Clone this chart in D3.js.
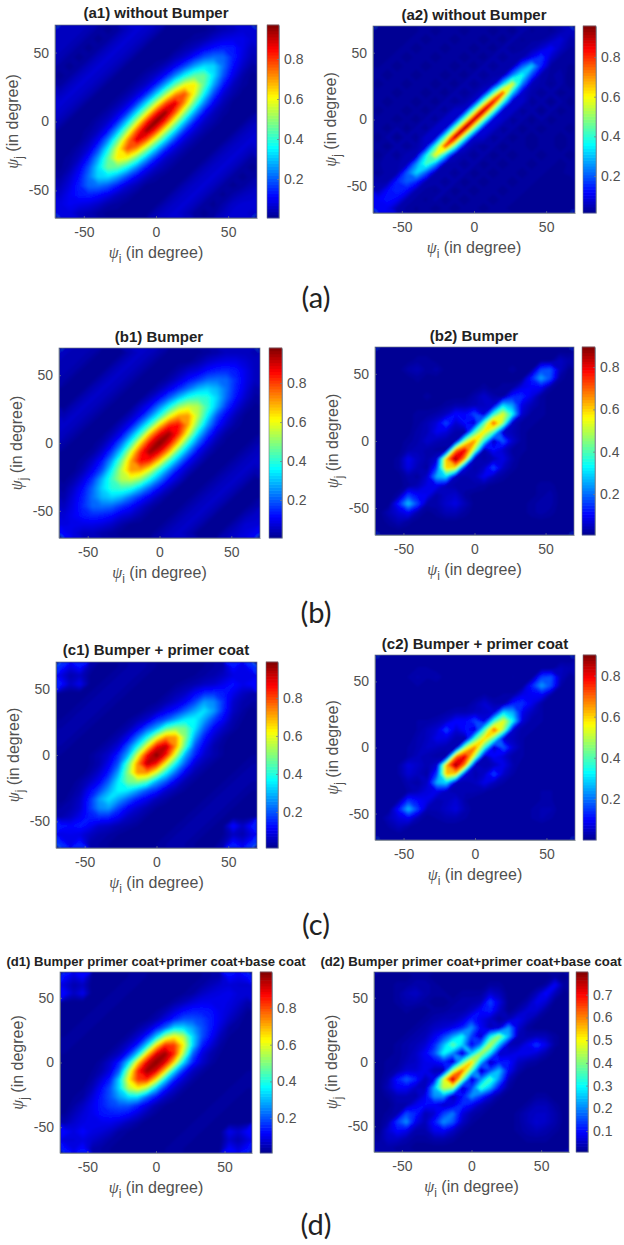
<!DOCTYPE html>
<html>
<head>
<meta charset='UTF-8'>
<title>Beam pattern correlation</title>
<script src='https://d3js.org/d3.v7.min.js'></script>
<style>
    body { margin: 0; background: #fff; }
    text { font-family: 'Liberation Sans', Arial, sans-serif; }
    .tickLabels text { font-size: 14px; fill: #505050; }
    .tickLabels path, .tickLabels line { stroke: #6f7a88; stroke-width: 0.7; }
    .label { font-size: 16px; fill: #505050; }
    .psi { font-family: 'Liberation Serif', serif; font-style: italic; }
    .title { font-weight: bold; fill: #222; text-anchor: middle; }
    .sub { font-family: 'Lato', sans-serif; font-size: 29px; fill: #222; text-anchor: middle; }
</style>
</head>
<body>
<svg id='fig' width='624' height='1245'></svg>
<script type='text/javascript'>

// values are percent, rows run from psi_j = +66.7 down to -66.7, columns psi_i = -66.7 to +66.7
var a1Values = [
[5,5,5,4,2,1,2,5,7,6,4,1,1,1,1,1,2,4,5,7,7],
[5,5,4,2,1,2,5,7,6,4,1,1,1,1,2,3,6,8,9,9,7],
[5,4,2,1,2,5,7,6,4,1,1,1,1,3,5,9,12,14,13,9,5],
[4,2,1,2,5,7,6,4,1,1,1,1,4,7,13,19,22,21,14,8,4],
[2,1,2,5,7,6,4,1,1,1,2,5,10,18,27,33,32,22,12,6,2],
[1,2,5,7,6,4,1,1,1,3,6,12,24,36,45,46,33,19,9,3,1],
[2,5,7,6,4,1,1,1,3,6,14,28,45,59,62,45,27,13,5,2,1],
[5,7,6,4,1,1,1,3,7,15,31,51,70,77,59,36,18,7,3,1,1],
[7,6,4,1,1,1,3,7,16,33,55,77,88,70,45,24,10,4,1,1,1],
[6,4,1,1,1,3,7,15,33,56,81,95,77,51,28,12,5,2,1,1,1],
[4,1,1,1,3,6,14,31,55,81,97,81,55,31,14,6,3,1,1,1,4],
[1,1,1,2,5,12,28,51,77,95,81,56,33,15,7,3,1,1,1,4,6],
[1,1,1,4,10,24,45,70,88,77,55,33,16,7,3,1,1,1,4,6,7],
[1,1,3,7,18,36,59,77,70,51,31,15,7,3,1,1,1,4,6,7,5],
[1,2,5,13,27,45,62,59,45,28,14,6,3,1,1,1,4,6,7,5,2],
[1,3,9,19,33,46,45,36,24,12,6,3,1,1,1,4,6,7,5,2,1],
[2,6,12,22,32,33,27,18,10,5,2,1,1,1,4,6,7,5,2,1,2],
[4,8,14,21,22,19,13,7,4,1,1,1,1,4,6,7,5,2,1,2,4],
[6,10,13,14,12,9,5,3,1,1,1,1,4,6,7,5,2,1,3,5,6],
[8,10,9,8,6,3,2,1,1,1,1,4,6,7,5,2,1,3,6,7,7],
[8,8,5,4,2,1,1,1,1,1,4,6,7,5,2,1,2,5,7,7,6]
];
var a2Values = [
[2,2,2,1,2,3,1,3,3,1,3,3,1,3,1,4,2,3,2,4,6],
[2,2,1,2,3,1,3,3,1,3,3,1,3,1,4,2,3,3,5,8,4],
[2,1,2,3,1,3,3,1,3,3,1,3,1,4,2,3,4,7,11,6,3],
[1,2,3,1,3,3,1,3,3,1,3,1,4,2,4,4,10,17,7,3,3],
[2,3,1,3,3,1,3,3,1,3,1,4,2,4,4,20,31,14,3,3,2],
[3,1,3,3,1,3,3,1,3,1,4,2,4,4,24,38,18,4,3,4,1],
[1,3,3,1,3,3,1,3,1,4,2,4,5,32,58,24,5,4,2,4,1],
[3,3,1,3,3,1,3,1,4,2,4,7,42,78,32,7,4,2,4,1,3],
[3,1,3,3,1,3,1,4,2,4,7,47,88,42,6,7,2,4,1,4,1],
[1,3,3,1,3,1,4,2,7,7,48,93,47,7,7,2,4,1,4,1,3],
[3,3,1,3,1,4,2,7,7,47,93,48,8,7,2,4,1,4,1,3,3],
[3,1,4,1,4,2,7,7,47,95,48,8,7,2,4,1,3,1,3,3,1],
[1,4,1,4,2,7,6,44,93,46,7,7,2,4,1,3,1,3,3,1,3],
[3,1,4,2,4,7,40,80,44,7,4,2,4,1,3,3,1,3,3,1,3],
[1,4,2,5,5,34,60,33,5,4,2,4,1,3,1,3,3,1,3,3,1],
[3,4,4,5,25,42,27,4,4,2,4,1,3,1,3,3,1,3,3,1,3],
[2,4,4,20,32,20,4,4,2,4,1,3,1,3,3,1,3,3,1,2,3],
[4,4,15,20,15,4,4,2,4,1,3,1,3,3,1,3,3,1,2,2,1],
[5,12,15,12,4,3,2,4,1,3,1,3,3,1,3,3,1,2,2,1,2],
[11,13,11,4,3,2,4,1,3,1,3,3,1,3,3,1,2,2,1,2,2],
[11,10,4,3,2,3,1,3,1,3,3,1,3,3,1,2,2,1,2,2,2]
];
var b1Values = [
[5,4,4,3,1,1,1,4,6,5,3,1,1,1,1,2,3,5,5,5,4],
[4,4,3,1,1,1,4,6,5,3,1,1,1,1,3,6,8,9,9,7,5],
[4,3,1,1,1,4,6,5,3,1,1,1,3,6,8,12,14,15,13,9,5],
[3,1,1,1,4,6,5,3,1,1,1,3,7,12,16,21,22,21,15,9,5],
[1,1,1,4,6,5,3,1,1,1,4,9,15,22,29,32,29,22,14,8,3],
[1,1,4,6,5,3,1,1,1,5,11,20,30,39,42,40,32,21,12,6,2],
[1,4,6,5,3,1,1,1,6,12,24,37,51,57,54,42,29,16,8,3,1],
[4,6,5,3,1,1,1,5,11,24,39,58,70,71,55,36,19,10,4,1,1],
[6,5,3,1,1,1,5,11,25,42,65,82,85,70,47,27,13,6,2,1,1],
[5,3,1,1,1,4,10,24,42,68,87,95,82,58,33,17,7,2,1,1,1],
[3,1,1,1,3,9,21,39,65,87,98,87,65,39,21,9,3,1,1,1,3],
[1,1,1,2,7,17,33,58,82,95,87,68,42,24,10,4,1,1,1,3,5],
[1,1,2,6,13,27,47,70,85,82,65,42,25,11,5,1,1,1,3,5,6],
[1,1,4,10,19,36,55,71,70,58,39,24,11,5,1,1,1,3,5,6,4],
[1,3,8,16,29,42,54,57,51,37,24,12,6,1,1,1,3,5,6,4,1],
[2,6,12,21,32,40,42,39,30,20,11,5,1,1,1,3,5,6,4,1,1],
[3,8,14,22,29,32,29,22,15,9,4,1,1,1,3,5,6,4,1,1,1],
[5,9,15,21,22,21,16,12,7,3,1,1,1,3,5,6,4,1,1,1,3],
[7,10,13,15,14,12,8,6,3,1,1,1,3,5,6,4,1,1,1,4,6],
[8,9,9,9,8,6,3,1,1,1,1,3,5,6,4,1,1,1,4,7,7],
[11,8,5,5,3,2,1,1,1,1,3,5,6,4,1,1,1,4,6,8,10]
];
var b2Values = [
[1,1,1,1,1,1,1,1,1,1,1,1,1,1,1,1,1,1,1,1,1],
[1,1,1,1,2,2,1,1,1,1,1,1,1,1,1,1,1,1,1,5,3],
[1,1,1,3,4,2,3,1,1,1,1,1,1,1,2,1,1,16,18,5,1],
[1,1,1,1,2,1,1,1,1,1,1,1,1,1,1,1,13,25,17,2,1],
[1,1,1,1,1,1,1,1,1,1,1,2,1,2,2,8,10,10,2,1,1],
[1,1,1,1,1,2,1,1,1,1,3,6,3,2,13,14,8,2,1,1,1],
[1,1,1,1,1,1,1,2,3,3,4,5,6,30,24,8,4,2,1,1,1],
[1,1,1,1,2,2,3,5,11,10,17,7,36,54,34,6,2,2,1,1,1],
[1,1,1,1,2,4,7,17,6,11,6,40,72,48,5,2,2,1,1,1,1],
[1,1,1,1,3,4,9,7,3,2,38,58,40,6,4,2,1,1,1,1,1],
[1,1,1,2,3,6,4,3,3,48,66,36,4,19,6,2,1,1,1,1,1],
[1,1,1,3,4,3,2,2,66,80,48,3,11,6,2,2,1,1,1,1,1],
[1,1,2,9,5,3,6,62,89,64,4,3,4,8,3,1,1,1,1,1,1],
[1,1,2,8,4,2,15,60,58,7,3,5,17,5,2,1,1,1,1,1,1],
[1,1,1,3,2,6,26,30,4,3,4,9,4,2,1,1,1,1,1,1,1],
[1,1,1,2,4,8,9,4,3,3,3,2,1,1,1,1,1,2,2,1,1],
[1,1,2,15,10,9,3,5,6,2,1,1,1,1,1,1,1,2,3,1,1],
[1,1,13,28,16,3,3,6,8,4,1,1,1,1,1,1,2,3,3,1,1],
[1,4,7,10,3,1,2,4,4,2,1,1,1,1,1,1,2,3,2,1,1],
[1,2,4,2,1,1,1,1,1,1,1,1,1,1,1,1,1,1,1,1,1],
[1,1,1,1,1,1,1,1,1,1,1,1,1,1,1,1,1,1,1,1,1]
];
var c1Values = [
[16,9,14,4,1,1,2,3,4,3,2,1,1,1,1,2,3,4,14,9,16],
[9,4,6,2,1,2,3,4,3,2,1,1,1,1,2,3,4,6,9,10,9],
[14,6,10,2,2,3,4,3,2,1,1,1,2,3,4,6,7,10,13,10,12],
[2,1,1,2,3,4,3,2,1,1,1,2,4,6,11,15,16,14,10,6,4],
[1,1,2,3,4,3,2,1,1,1,2,4,7,11,18,27,25,16,7,4,3],
[1,2,3,4,3,2,1,1,1,3,5,10,14,21,28,34,27,15,6,3,1],
[2,3,4,3,2,1,1,2,4,7,15,20,28,35,37,28,18,11,4,2,1],
[3,4,3,2,1,1,2,4,10,20,29,45,51,48,35,21,11,6,3,1,1],
[4,3,2,1,1,2,4,10,22,37,58,73,72,51,28,14,7,3,1,1,1],
[3,2,1,1,2,4,8,20,37,61,86,93,73,45,20,10,4,2,1,1,1],
[2,1,1,2,4,7,15,29,58,86,99,86,58,29,15,7,4,2,1,1,2],
[1,1,1,2,4,10,20,45,73,93,86,61,37,20,8,4,2,1,1,2,3],
[1,1,1,3,7,14,28,51,72,73,58,37,22,10,4,2,1,1,2,3,4],
[1,1,3,6,11,21,35,48,51,45,29,20,10,4,2,1,1,2,3,4,3],
[1,2,4,11,18,28,37,35,28,20,15,7,4,2,1,1,2,3,4,3,2],
[1,3,6,15,27,34,28,21,14,10,5,3,1,1,1,2,3,4,3,2,1],
[3,4,7,16,25,27,18,11,7,4,2,1,1,1,2,3,4,3,2,1,1],
[4,6,10,14,16,15,11,6,4,2,1,1,1,2,3,4,3,2,1,1,2],
[14,12,14,11,7,6,4,3,2,1,1,1,2,3,4,3,2,2,13,6,14],
[9,10,9,6,4,3,2,1,1,1,1,2,3,4,3,2,1,2,6,4,9],
[16,9,15,4,3,2,1,1,1,1,2,3,4,3,2,1,1,4,14,9,16]
];
var c2Values = [
[1,1,1,1,1,1,1,1,1,1,1,1,1,1,1,1,1,1,1,1,1],
[1,1,1,1,2,2,1,1,1,1,1,1,1,1,1,1,1,1,1,4,3],
[1,1,1,2,3,2,3,1,1,1,1,1,1,1,2,1,1,15,17,4,1],
[1,1,1,1,2,1,1,1,1,1,1,1,1,1,1,1,13,24,16,2,1],
[1,1,1,1,1,1,1,1,1,1,1,2,1,2,2,8,9,10,2,1,1],
[1,1,1,1,1,1,1,1,1,1,3,6,3,2,12,14,8,2,1,1,1],
[1,1,1,1,1,1,1,2,3,3,4,5,6,30,25,8,4,2,1,1,1],
[1,1,1,1,2,2,3,5,10,10,16,7,37,54,33,6,2,2,1,1,1],
[1,1,1,1,2,4,6,16,6,11,6,40,72,47,5,2,2,1,1,1,1],
[1,1,1,1,3,4,8,7,3,2,39,60,40,6,4,2,1,1,1,1,1],
[1,1,1,2,3,5,4,3,3,50,68,37,4,18,6,2,1,1,1,1,1],
[1,1,1,2,4,3,2,2,68,81,49,3,10,6,2,2,1,1,1,1,1],
[1,1,2,7,5,3,6,64,89,65,4,3,4,8,3,1,1,1,1,1,1],
[1,1,2,6,4,2,15,62,60,7,3,5,16,5,2,1,1,1,1,1,1],
[1,1,1,3,2,5,26,30,4,3,4,8,4,2,1,1,1,1,1,1,1],
[1,1,1,2,4,7,8,4,3,3,3,2,1,1,1,1,1,2,2,1,1],
[1,1,2,14,10,8,3,4,6,2,1,1,1,1,1,1,1,2,2,1,1],
[1,1,12,27,15,3,3,5,7,3,1,1,1,1,1,1,2,3,3,1,1],
[1,4,7,9,3,1,2,3,3,2,1,1,1,1,1,1,2,3,2,1,1],
[1,2,4,2,1,1,1,1,1,1,1,1,1,1,1,1,1,1,1,1,1],
[1,1,1,1,1,1,1,1,1,1,1,1,1,1,1,1,1,1,1,1,1]
];
var d1Values = [
[13,8,12,2,1,1,1,2,3,2,1,1,1,1,1,2,3,4,13,10,13],
[8,4,6,1,1,1,2,3,2,1,1,1,1,1,2,3,5,7,8,7,7],
[12,6,10,1,1,2,3,2,1,1,1,1,1,2,3,6,8,9,10,8,8],
[2,1,1,1,2,3,2,1,1,1,1,1,3,5,8,10,10,10,9,7,4],
[1,1,1,2,3,2,1,1,1,1,2,4,8,12,14,14,13,10,8,5,2],
[1,1,2,3,2,1,1,1,1,2,4,9,15,20,20,18,14,10,6,3,1],
[1,2,3,2,1,1,1,1,3,6,13,22,34,34,28,20,14,8,3,2,1],
[2,3,2,1,1,1,1,3,7,15,32,54,63,56,34,20,12,5,2,1,1],
[3,2,1,1,1,1,3,7,15,34,64,84,82,63,34,15,8,3,1,1,1],
[2,1,1,1,1,3,6,15,34,66,90,97,84,54,22,9,4,2,1,1,1],
[1,1,1,1,3,7,15,34,66,90,99,90,66,34,15,7,3,1,1,1,1],
[1,1,1,2,4,9,22,54,84,97,90,66,34,15,6,3,1,1,1,1,2],
[1,1,1,3,8,15,34,63,82,84,64,34,15,7,3,1,1,1,1,2,3],
[1,1,2,5,12,20,34,56,63,54,32,15,7,3,1,1,1,1,2,3,2],
[1,2,3,8,14,20,28,34,34,22,13,6,3,1,1,1,1,2,3,2,1],
[1,3,6,10,14,18,20,20,15,9,4,2,1,1,1,1,2,3,2,1,1],
[2,5,8,10,13,14,14,12,8,4,2,1,1,1,1,2,3,2,1,1,1],
[4,7,9,10,10,10,8,5,3,1,1,1,1,1,2,3,2,1,1,1,2],
[12,9,12,9,8,6,3,2,1,1,1,1,1,2,3,2,1,1,10,7,12],
[8,8,9,7,5,3,2,1,1,1,1,1,2,3,2,1,1,1,7,4,8],
[13,9,13,4,3,2,1,1,1,1,1,2,3,2,1,1,1,2,12,8,13]
];
var d2Values = [
[1,1,1,1,2,2,1,1,1,1,1,1,1,1,1,1,1,1,1,2,1],
[1,1,2,2,3,3,2,1,1,1,1,1,2,2,1,1,1,1,2,9,2],
[1,1,2,4,5,3,2,2,1,2,2,2,6,4,1,1,1,4,10,4,1],
[1,1,2,3,3,2,1,1,2,3,3,4,15,7,1,1,3,8,6,1,1],
[1,1,1,2,1,1,2,2,3,3,5,10,12,5,1,3,6,6,2,1,1],
[1,1,1,1,1,2,3,4,4,6,12,8,5,2,4,8,5,2,1,1,1],
[1,1,1,1,2,3,5,6,8,12,21,9,4,6,22,6,2,1,1,1,1],
[1,1,1,2,3,4,8,14,22,30,14,5,28,42,24,4,3,4,4,2,1],
[1,1,2,3,4,6,12,24,38,26,8,20,46,24,4,4,8,14,8,2,1],
[1,1,2,3,5,9,16,30,20,5,26,44,28,5,6,8,8,6,3,1,1],
[1,2,2,4,5,8,9,12,5,34,55,26,4,11,11,5,3,2,1,1,1],
[1,2,3,6,6,8,4,3,44,63,36,4,15,25,9,3,1,1,1,1,1],
[1,3,11,17,12,4,8,48,78,42,5,20,36,20,4,1,1,1,1,1,1],
[1,4,9,9,5,4,24,46,44,5,14,34,24,9,2,1,1,1,1,1,1],
[1,2,4,4,3,8,21,22,4,10,21,14,6,2,1,1,1,2,2,1,1],
[1,1,3,3,8,10,9,5,7,13,9,4,2,1,1,1,2,4,4,2,1],
[1,2,3,15,12,4,6,14,19,7,3,2,1,1,1,2,4,5,5,3,1],
[1,3,14,21,8,4,11,21,16,5,2,1,1,1,1,2,4,6,5,3,1],
[1,6,10,8,3,3,8,9,5,2,1,1,1,1,1,2,3,4,3,2,1],
[2,5,5,3,2,2,3,3,2,1,1,1,1,1,1,1,2,2,2,1,1],
[3,3,2,2,1,1,1,1,1,1,1,1,1,1,1,1,1,1,1,1,1]
];

var angleTicks = [-50, 0, 50];
var barTicks = [0.2, 0.4, 0.6, 0.8];
var barTicksFine = [0.1, 0.2, 0.3, 0.4, 0.5, 0.6, 0.7];

var panels = [
    {title: '(a1) without Bumper', values: a1Values, clim: [0.5, 97], ticks: barTicks, x: [55, 257], y: [25, 218], bar: [267, 279], tx: 156, ty: 18, fs: 15},
    {title: '(a2) without Bumper', values: a2Values, clim: [1.3, 95.7], ticks: barTicks, x: [373, 575], y: [26, 213], bar: [583, 596], tx: 474, ty: 20, fs: 15},
    {title: '(b1) Bumper', values: b1Values, clim: [0.5, 98], ticks: barTicks, x: [59, 260], y: [348, 538], bar: [269, 282], tx: 159, ty: 342, fs: 15},
    {title: '(b2) Bumper', values: b2Values, clim: [0.6, 89.5], ticks: barTicks, x: [375, 574], y: [347, 535], bar: [582, 595], tx: 474, ty: 341, fs: 15},
    {title: '(c1) Bumper + primer coat', values: c1Values, clim: [1, 99], ticks: barTicks, x: [56, 257], y: [662, 848], bar: [266, 278], tx: 156, ty: 655, fs: 15},
    {title: '(c2) Bumper + primer coat', values: c2Values, clim: [0, 90], ticks: barTicks, x: [375, 575], y: [655, 840], bar: [583, 596], tx: 475, ty: 649, fs: 15},
    {title: '(d1) Bumper primer coat+primer coat+base coat', values: d1Values, clim: [1, 99.6], ticks: barTicks, x: [60, 252], y: [972, 1153], bar: [260, 272], tx: 156, ty: 966, fs: 13.1},
    {title: '(d2) Bumper primer coat+primer coat+base coat', values: d2Values, clim: [0.8, 80], ticks: barTicksFine, x: [374, 569], y: [972, 1152], bar: [576, 588], tx: 471, ty: 966, fs: 13.2}
];

var subLabels = [['(a)', 298], ['(b)', 613], ['(c)', 925], ['(d)', 1225]];

// MATLAB jet
var jet = d3.scaleLinear()
    .domain([0, 0.11, 0.365, 0.625, 0.875, 1])
    .range(['#00008f', '#0000ff', '#00ffff', '#ffff00', '#ff0000', '#800000'])
    .clamp(true);

var levels = 96;
var svg = d3.select('#fig');

var defs = svg.append('defs');
defs.append('filter').attr('id', 'soft')
    .append('feGaussianBlur').attr('stdDeviation', 1.1);

function drawPanel(p, idx) {
    var n = p.values.length,
        flat = d3.merge(p.values),
        step = 140 / n;

    var xScale = d3.scaleLinear().domain([-70, 70]).range(p.x),
        yScale = d3.scaleLinear().domain([-70, 70]).range([p.y[1], p.y[0]]);

    var project = d3.geoTransform({
        point: function(cx, cy) {
            this.stream.point(xScale(-70 + cx * step), yScale(70 - cy * step));
        }
    });
    var path = d3.geoPath(project);

    var g = svg.append('g');

    defs.append('clipPath').attr('id', 'clip' + idx)
        .append('rect')
        .attr('x', p.x[0]).attr('y', p.y[0])
        .attr('width', p.x[1] - p.x[0]).attr('height', p.y[1] - p.y[0]);

    var plot = g.append('g').attr('clip-path', 'url(#clip' + idx + ')');

    plot.append('rect')
        .attr('x', p.x[0]).attr('y', p.y[0])
        .attr('width', p.x[1] - p.x[0]).attr('height', p.y[1] - p.y[0])
        .attr('fill', jet(0.02));

    // paint from the top level down with v <= t regions, this keeps thin diagonal ridges joined
    var contours = d3.contours().size([n, n]);
    var negated = flat.map(function(d) { return -d; });
    var bands = d3.range(levels - 1, -1, -1);

    plot.append('g')
        .attr('filter', 'url(#soft)')
        .selectAll('path')
        .data(bands)
        .enter()
        .append('path')
        .attr('d', function(l) {
            var t = p.clim[0] + (l + 1) / levels * (p.clim[1] - p.clim[0]);
            return path(contours.contour(negated, -t));
        })
        .attr('fill', function(l) { return jet((l + 0.5) / levels); });

    g.append('rect')
        .attr('x', p.x[0]).attr('y', p.y[0])
        .attr('width', p.x[1] - p.x[0]).attr('height', p.y[1] - p.y[0])
        .attr('fill', 'none')
        .attr('stroke', '#6f7a88')
        .attr('stroke-width', 0.7);

    // axes
    g.append('g')
        .attr('class', 'tickLabels')
        .attr('transform', 'translate(0,' + p.y[1] + ')')
        .call(d3.axisBottom(xScale).tickValues(angleTicks).tickSizeInner(-2).tickSizeOuter(0).tickPadding(9).tickFormat(String));

    g.append('g')
        .attr('class', 'tickLabels')
        .attr('transform', 'translate(' + p.x[0] + ',0)')
        .call(d3.axisLeft(yScale).tickValues(angleTicks).tickSizeInner(-2).tickSizeOuter(0).tickPadding(6).tickFormat(String));

    // x label
    var xLabel = g.append('text')
        .attr('class', 'label')
        .attr('text-anchor', 'middle')
        .attr('x', (p.x[0] + p.x[1]) / 2)
        .attr('y', p.y[1] + 40);
    xLabel.append('tspan').attr('class', 'psi').text('ψ');
    xLabel.append('tspan').attr('dy', 5).attr('font-size', 12).text('i');
    xLabel.append('tspan').attr('dy', -5).text(' (in degree)');

    // y label
    var yLabel = g.append('text')
        .attr('class', 'label')
        .attr('text-anchor', 'middle')
        .attr('transform', 'translate(' + (p.x[0] - 37) + ',' + ((p.y[0] + p.y[1]) / 2) + ') rotate(-90)');
    yLabel.append('tspan').attr('class', 'psi').text('ψ');
    yLabel.append('tspan').attr('dy', 5).attr('font-size', 12).text('j');
    yLabel.append('tspan').attr('dy', -5).text(' (in degree)');

    g.append('text')
        .attr('class', 'title')
        .attr('x', p.tx)
        .attr('y', p.ty)
        .style('font-size', p.fs + 'px')
        .text(p.title);

    // colour bar
    var barScale = d3.scaleLinear()
        .domain([p.clim[0] / 100, p.clim[1] / 100])
        .range([p.y[1], p.y[0]]);
    var barSteps = d3.range(64);
    var barBand = d3.scaleBand().domain(barSteps).range([p.y[1], p.y[0]]);

    g.append('g').selectAll('rect')
        .data(barSteps)
        .enter()
        .append('rect')
        .attr('x', p.bar[0])
        .attr('width', p.bar[1] - p.bar[0])
        .attr('y', function(d) { return barBand(d) - 0.3; })
        .attr('height', barBand.bandwidth() + 0.6)
        .attr('fill', function(d) { return jet((d + 0.5) / 64); });

    g.append('rect')
        .attr('x', p.bar[0]).attr('y', p.y[0])
        .attr('width', p.bar[1] - p.bar[0]).attr('height', p.y[1] - p.y[0])
        .attr('fill', 'none')
        .attr('stroke', '#6f7a88')
        .attr('stroke-width', 0.6);

    g.append('g')
        .attr('class', 'tickLabels')
        .attr('transform', 'translate(' + p.bar[1] + ',0)')
        .call(d3.axisRight(barScale).tickValues(p.ticks).tickSizeInner(-2).tickSizeOuter(0).tickPadding(5).tickFormat(d3.format('.1f')));
}

panels.forEach(drawPanel);

svg.selectAll('.sub')
    .data(subLabels)
    .enter()
    .append('text')
    .attr('class', 'sub')
    .attr('x', 316)
    .attr('y', function(d) { return d[1] + 10; })
    .text(function(d) { return d[0]; });

</script>
</body>
</html>
